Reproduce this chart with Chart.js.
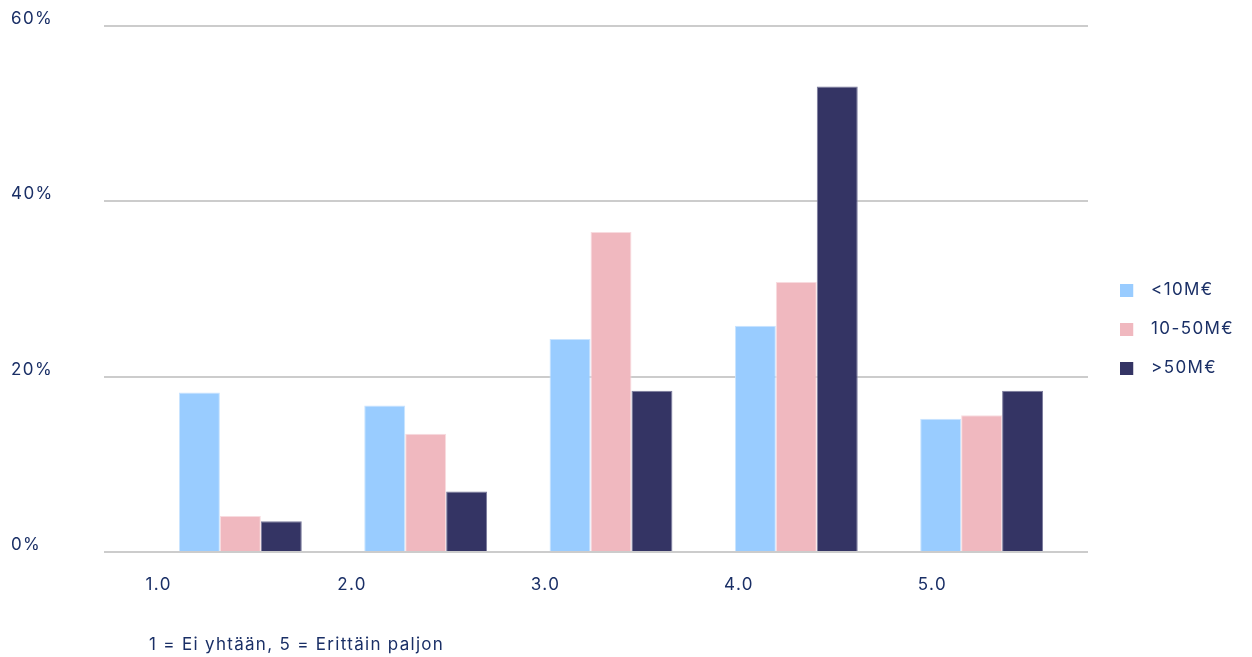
<!DOCTYPE html>
<html lang="fi">
<head>
<meta charset="utf-8">
<title>Vastaukset yrityskoon mukaan</title>
<script src="https://cdn.jsdelivr.net/npm/chart.js@4.4.1/dist/chart.umd.min.js"></script>
<style>
  html, body { margin: 0; padding: 0; background: #ffffff; }
  #wrap { position: relative; width: 1252px; height: 657px; }
  #caption {
    position: absolute; left: 149px; top: 634px;
    font-family: Inter, "Noto Sans", sans-serif; font-size: 17px; line-height: 20px;
    letter-spacing: 1.3px;
    color: #1a2f66; white-space: nowrap;
  }
</style>
</head>
<body>
<div id="wrap">
  <canvas id="chart" width="1252" height="657"></canvas>
  <div id="caption">1 = Ei yhtään, 5 = Erittäin paljon</div>
</div>
<script>
// Scale positions 1–5 on the answer scale
const categories = [1, 2, 3, 4, 5];
const tickLabels = ['1.0', '2.0', '3.0', '4.0', '5.0'];
const seriesNames = ['<10M€', '10-50M€', '>50M€'];

// Share of respondents (%) per answer, by company revenue
const smallCompanies  = [18.2, 16.7, 24.3, 25.8, 15.2];
const mediumCompanies = [4.1, 13.5, 36.5, 30.8, 15.6];
const largeCompanies  = [3.5, 6.9, 18.4, 53.1, 18.4];

const yTicks = [0, 20, 40, 60];

const TEXT = '#1a2f66';
const FONT = { family: 'Inter, "Noto Sans", sans-serif', size: 17 };
const LETTER_SPACING = '1.4px';

// Small legend swatch: a 13px square on a wider transparent strip,
// so the label text sits a little further from the square
function swatch(color) {
  const c = document.createElement('canvas');
  c.width = 22; c.height = 13;
  const g = c.getContext('2d');
  g.fillStyle = color;
  g.fillRect(0, 0, 13, 13);
  return c;
}

function series(values) {
  return categories.map((x, i) => ({ x, y: values[i] }));
}

const palette = [
  { fill: '#99ccff', edge: '#c9e4ff' },
  { fill: '#f0b8bf', edge: '#f8dbdf' },
  { fill: '#343464', edge: '#7a7a9c' }
];

const allSeries = [smallCompanies, mediumCompanies, largeCompanies];

const datasets = allSeries.map((vals, i) => ({
  label: seriesNames[i],
  data: series(vals),
  backgroundColor: palette[i].fill,
  borderColor: palette[i].edge,
  borderWidth: 1,
  pointStyle: swatch(palette[i].fill),
  xAxisID: 'x',
  yAxisID: 'y',
  categoryPercentage: 0.663,
  barPercentage: 1.0
}));

// Slightly tracked-out lettering for all canvas text
const spacedText = {
  id: 'spacedText',
  beforeUpdate(chart) { chart.ctx.letterSpacing = LETTER_SPACING; },
  beforeDraw(chart) { chart.ctx.letterSpacing = LETTER_SPACING; }
};

new Chart(document.getElementById('chart'), {
  type: 'bar',
  data: { datasets },
  plugins: [spacedText],
  options: {
    responsive: false,
    animation: false,
    layout: { padding: { top: 26, left: 11, right: 8, bottom: 25 } },
    plugins: {
      tooltip: { enabled: false },
      legend: {
        position: 'right',
        align: 'center',
        labels: {
          usePointStyle: true,
          pointStyleWidth: 22.5,
          padding: 22,
          color: TEXT,
          font: FONT
        }
      }
    },
    scales: {
      x: {
        type: 'linear',
        display: false,
        offset: false,
        min: 0.2642,
        max: 5.574,
        afterBuildTicks: (axis) => { axis.ticks = categories.map(v => ({ value: v })); }
      },
      x2: {
        type: 'linear',
        position: 'bottom',
        offset: false,
        min: 0.7175,
        max: 5.804,
        grid: { display: false },
        border: { display: false },
        afterBuildTicks: (axis) => { axis.ticks = categories.map(v => ({ value: v })); },
        afterFit: (axis) => { axis.height = 80; },
        ticks: {
          color: TEXT,
          font: FONT,
          padding: 15,
          maxRotation: 0,
          callback: (v) => tickLabels[categories.indexOf(v)]
        }
      },
      y: {
        type: 'linear',
        position: 'left',
        min: 0,
        max: 60,
        afterBuildTicks: (axis) => { axis.ticks = yTicks.map(v => ({ value: v })); },
        afterFit: (axis) => { axis.width = 93; },
        grid: { color: '#cccccc', lineWidth: 2, drawTicks: false },
        border: { display: false },
        ticks: {
          color: TEXT,
          font: FONT,
          padding: 0,
          crossAlign: 'far',
          labelOffset: -7,
          callback: (v) => v + '%'
        }
      },
      yGap: {
        type: 'linear',
        position: 'right',
        grid: { display: false },
        border: { display: false },
        ticks: { display: false },
        afterFit: (axis) => { axis.width = 10; }
      }
    }
  }
});
</script>
</body>
</html>
